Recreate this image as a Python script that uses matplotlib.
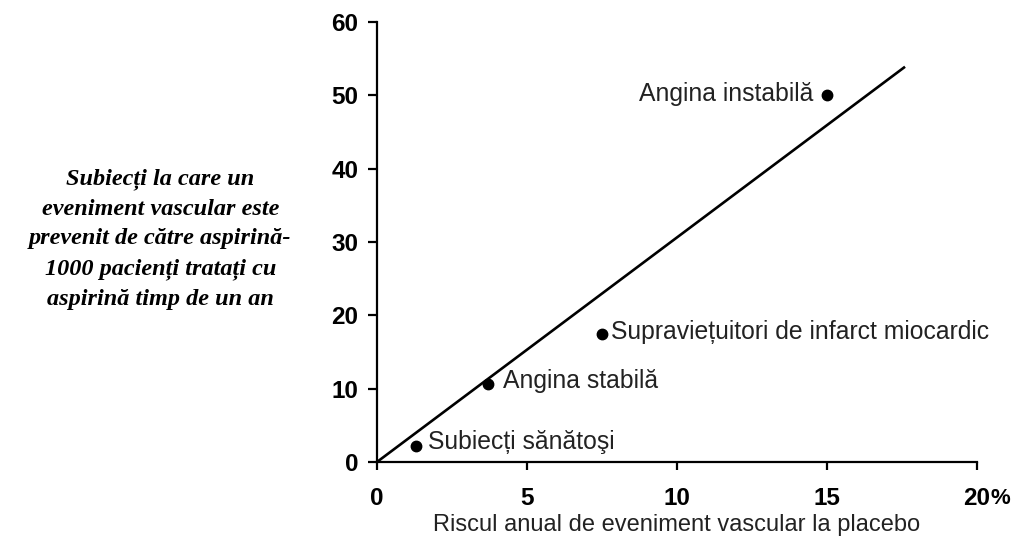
import numpy as np
import matplotlib.pyplot as plt

# annual risk with placebo (%) vs events prevented per 1000 treated/year
groups = ["Subiecți sănătoşi", "Angina stabilă",
          "Supraviețuitori de infarct miocardic", "Angina instabilă"]
risk = [1.3, 3.7, 7.5, 15.0]
prevented = [2.2, 10.7, 17.5, 50.0]
line_x = [0, 17.6]
line_y = [0, 53.9]

xticks = [0, 5, 10, 15, 20]
yticks = [0, 10, 20, 30, 40, 50, 60]

sans = "Liberation Sans"
serif = "Liberation Serif"

fig = plt.figure(figsize=(10.15, 5.37), dpi=100)
ax = fig.add_axes([0.3714, 0.1397, 0.5912, 0.8193])

ax.plot(line_x, line_y, color="black", lw=1.9, solid_capstyle="butt")
ax.plot(risk, prevented, "o", color="black", ms=7.5)

# point labels
offs = [(9, 3), (11, 2), (6.5, 1), (-10, 1)]
for g, x, y, (dx, dy) in zip(groups, risk, prevented, offs):
    ax.annotate(g, (x, y), xytext=(dx, dy), textcoords="offset points",
                ha="left" if dx > 0 else "right", va="center",
                fontsize=17.8, family=sans, color="#222222")

ax.set_xlim(0, 20)
ax.set_ylim(0, 60)
ax.set_xticks(xticks)
ax.set_xticklabels([str(t) for t in xticks])
ax.set_yticks(yticks)
ax.set_yticklabels([str(t) for t in yticks])
for lab in ax.get_xticklabels() + ax.get_yticklabels():
    lab.set_family(sans)
    lab.set_fontweight("bold")
    lab.set_fontsize(17.5)
ax.annotate("%", (20, 0), xytext=(10, -19), textcoords="offset points",
            ha="left", va="top", fontsize=16, fontweight="bold",
            family=sans, annotation_clip=False)

ax.tick_params(axis="x", direction="out", length=6, width=1.6, pad=12)
ax.tick_params(axis="y", direction="out", length=6.5, width=1.6, pad=7)
for s in ["top", "right"]:
    ax.spines[s].set_visible(False)
for s in ["left", "bottom"]:
    ax.spines[s].set_linewidth(1.6)

ax.set_xlabel("Riscul anual de eveniment vascular la placebo",
              family=sans, fontsize=17, labelpad=3, color="#222222")

fig.text(0.158, 0.555, "Subiecți la care un\neveniment vascular este\n"
         "prevenit de către aspirină-\n1000 pacienți tratați cu\n"
         "aspirină timp de un an",
         ha="center", va="center", family=serif, style="italic",
         fontweight="bold", fontsize=17.5, linespacing=1.55)

fig.savefig("out.png", dpi=100)
